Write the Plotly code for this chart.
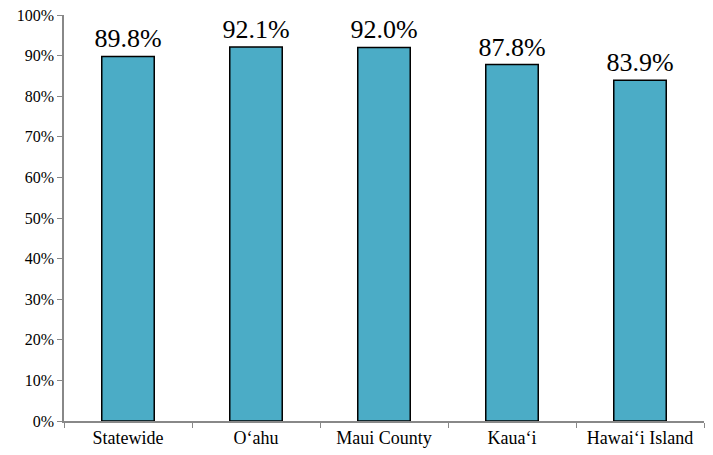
import plotly.graph_objects as go

categories = ["Statewide", "O‘ahu", "Maui County", "Kaua‘i", "Hawai‘i Island"]
values = [89.8, 92.1, 92.0, 87.8, 83.9]
labels = [f"{v:.1f}%" for v in values]

SERIF = "Liberation Serif, Times New Roman, serif"

fig = go.Figure(go.Bar(
    x=categories, y=values, text=labels, textposition="outside",
    textfont=dict(family=SERIF, size=26, color="black"),
    constraintext="none",
    marker=dict(color="#4BACC6", line=dict(color="black", width=1.5)),
    cliponaxis=False, width=0.41,
))
fig.update_layout(
    width=705, height=447, margin=dict(l=56, r=9, t=7, b=34),
    plot_bgcolor="white", paper_bgcolor="white", showlegend=False,
    font=dict(family=SERIF, size=16, color="black"),
)
fig.update_yaxes(range=[0, 100], dtick=10, ticksuffix="%", showgrid=False,
                 showline=True, linecolor="#888888", linewidth=1.5,
                 ticks="outside", ticklen=5, tickcolor="#888888", zeroline=False,
                 automargin=False, ticklabeloverflow="allow",
                 tickfont=dict(family=SERIF, size=16))
fig.update_xaxes(showline=True, linecolor="#888888", linewidth=1.5,
                 ticks="outside", ticklen=5, tickcolor="#888888",
                 tickson="boundaries", showgrid=False, automargin=False,
                 ticklabeloverflow="allow",
                 tickfont=dict(family=SERIF, size=18))
fig.write_html("out.html")
